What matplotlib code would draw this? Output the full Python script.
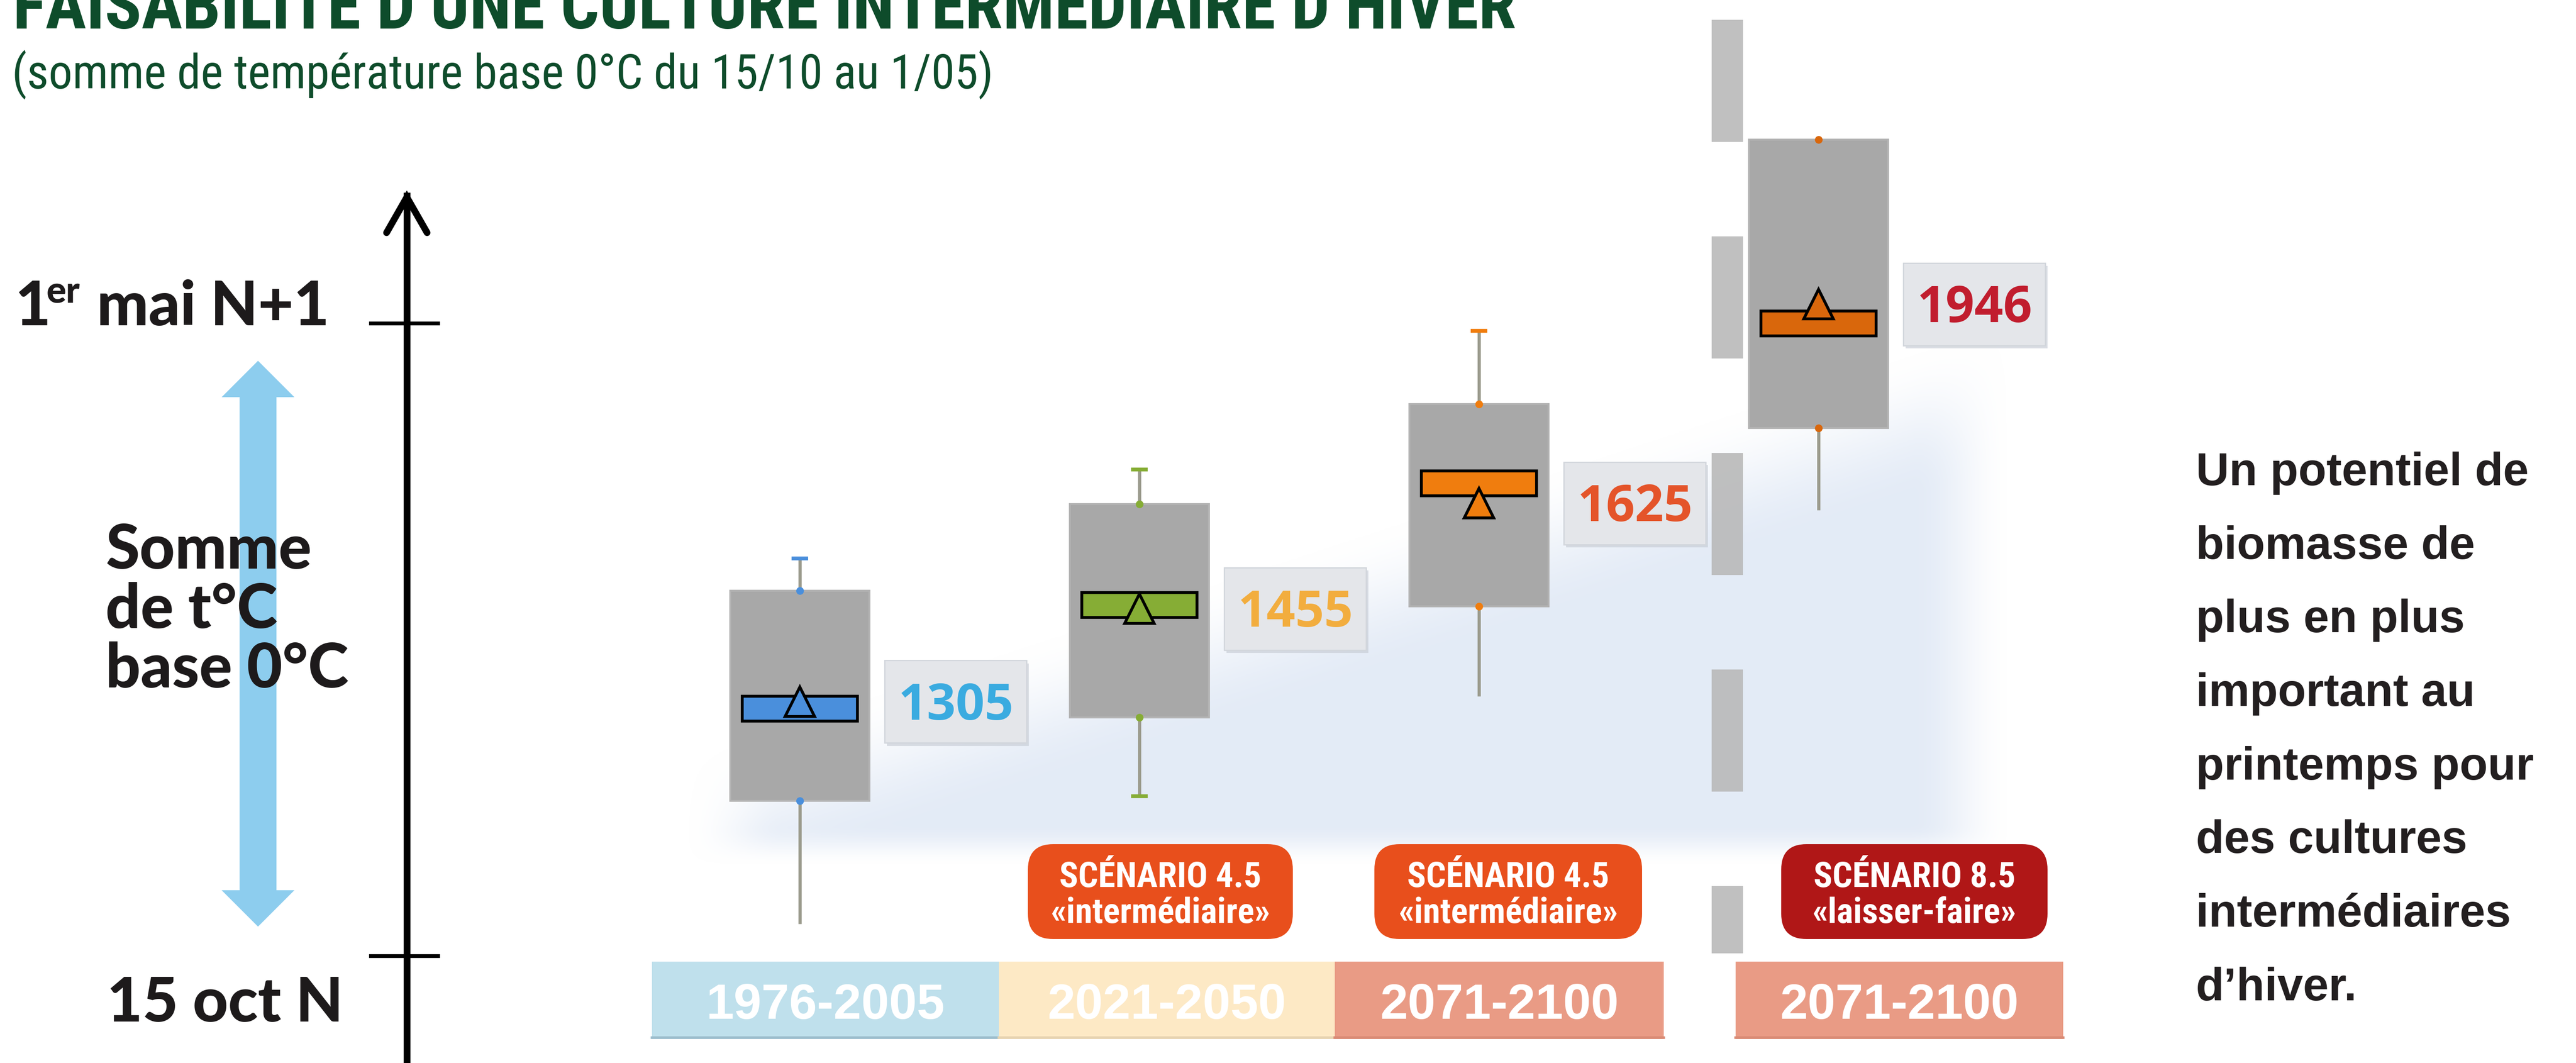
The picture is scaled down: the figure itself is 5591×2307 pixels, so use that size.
import numpy as np
import matplotlib
matplotlib.use('Agg')
import matplotlib.pyplot as plt
from matplotlib.patches import Rectangle, FancyBboxPatch, Polygon

# ---- data (sum of temperatures, base 0 degC) ----
periods = ['1976-2005', '2021-2050', '2071-2100', '2071-2100']
scen_top = [None, 'SCÉNARIO 4.5', 'SCÉNARIO 4.5', 'SCÉNARIO 8.5']
scen_bottom = [None, '«intermédiaire»', '«intermédiaire»', '«laisser-faire»']
means = [1305, 1455, 1625, 1946]
whisker_low = [947, 1153, 1314, 1614]
q1 = [1145, 1280, 1459, 1746]
medians = [1294, 1461, 1657, 1915]
q3 = [1484, 1624, 1785, 2211]
whisker_high = [1536, 1679, 1903, 2211]

# styles
median_colors = ['#4a8fdc', '#86ad35', '#f07d0e', '#d9670c']
label_colors = ['#3aabe0', '#f2ad3e', '#e4542a', '#c11d2e']
period_colors = ['#bfe0ec', '#fde9c5', '#e99b85', '#e99b85']
period_edge = ['#9bbccc', '#e6d3b0', '#d98a74', '#d98a74']
scen_colors = [None, '#e84f1c', '#e84f1c', '#b01717']
cap_top = [True, True, True, False]
cap_bottom = [False, True, False, False]

cond = ['Roboto Condensed', 'DejaVu Sans']
heavy = dict(family=['Lato', 'DejaVu Sans'], weight='black', color='#1d1a1b')
green = '#0e4c2b'

W, H = 5591, 2307
fig = plt.figure(figsize=(W / 100, H / 100), dpi=100)
r = fig.canvas.get_renderer()


def fit(t, width):
    t.set_fontsize(t.get_fontsize() * width / t.get_window_extent(r).width)
    return t.get_fontsize()


lay = fig.add_axes([0, 0, 1, 1])
lay.set_xlim(0, W)
lay.set_ylim(H, 0)
lay.axis('off')

ax = fig.add_axes([0, 0, 1, 1], zorder=3)
ax.patch.set_alpha(0)
ax.axis('off')
ax.set_xlim(-2.3555, 5.2307)
ax.set_ylim(722.6, 2436.3)

# soft blue glow behind the boxes
gx = np.linspace(1300, 4700, 341)
gy = np.linspace(400, 2000, 161)
GX, GY = np.meshgrid(gx, gy)
u, v = GX / 3.566, GY / 3.566


def ss(t):
    t = np.clip(t, 0, 1)
    return t * t * (3 - 2 * t)


alpha = ss((u - 415) / 60) * ss((1225 - u) / 60) * ss((528 - v) / 25) \
    * ss((v - (455 - (u - 430) * 0.33)) / 90)
img = np.zeros(GX.shape + (4,))
img[..., 0], img[..., 1], img[..., 2] = 0.89, 0.92, 0.965
img[..., 3] = alpha * 0.95
lay.imshow(img, extent=(1300, 4700, 2000, 400), aspect='auto', zorder=0,
           interpolation='bilinear')
lay.set_xlim(0, W)
lay.set_ylim(H, 0)

# title
title = lay.text(28, 62, 'FAISABILITÉ D’UNE CULTURE INTERMÉDIAIRE D’HIVER',
                 fontsize=100, weight='bold', color=green, va='baseline', family=cond)
fit(title, 3262)
sub = lay.text(26, 192, '(somme de température base 0°C du 15/10 au 1/05)',
               fontsize=60, color=green, va='baseline', family=cond)
fit(sub, 2132)

# left time axis
lay.plot([883, 883], [H + 10, 425], color='black', lw=10.5, zorder=2)
lay.plot([839, 883, 927], [505, 428, 505], color='black', lw=10.5,
         solid_capstyle='round', solid_joinstyle='miter', zorder=2)
lay.hlines([702, 2075], 801, 955, color='black', lw=6, zorder=2)
lay.add_patch(Polygon([(560, 783), (639, 862), (600, 862), (600, 1932), (639, 1932),
                       (560, 2011), (481, 1932), (520, 1932), (520, 862), (481, 862)],
                      closed=True, fc='#8dcdee', ec='none', zorder=1))
fs = 96
lay.text(32, 706, '1', fontsize=fs, va='baseline', **heavy)
lay.text(101, 658, 'er', fontsize=fs * 0.6, va='baseline', **heavy)
lay.text(210, 706, 'mai N+1', fontsize=fs, va='baseline', **heavy)
lay.text(232, 2217, '15 oct N', fontsize=fs, va='baseline', **heavy)
for txt, yb in zip(['Somme', 'de t°C', 'base 0°C'], [1234, 1363, 1492]):
    lay.text(229, yb, txt, fontsize=fs, va='baseline', zorder=3, **heavy)

# dashed separator before the 8.5 scenario
for s in np.arange(43, 2069, 470):
    lay.add_patch(Rectangle((3715, s), 68, min(265, 2069 - s), fc='#b9b9b9',
                            ec='none', alpha=0.9, zorder=2))

# period bars
period_spans = [(1415, 2168), (2168, 2897), (2897, 3611), (3767, 4478)]
for (x0, x1), lab, fc, ec in zip(period_spans, periods, period_colors, period_edge):
    lay.add_patch(Rectangle((x0, 2087), x1 - x0, 168, fc=fc, ec='none', zorder=2))
    lay.plot([x0, x1], [2252, 2252], color=ec, lw=4, zorder=2)
    lay.text((x0 + x1) / 2, 2211, lab, fontsize=78, weight='bold', color='white',
             ha='center', va='baseline', family='Liberation Sans', zorder=3)

# scenario tags
tag_spans = [None, (2231, 2806), (2983, 3564), (3866, 4444)]
probe = lay.text(0, -500, '«intermédiaire»', fontsize=56, weight='bold', family=cond)
tfs = fit(probe, 476)
probe.remove()
for span, t1, t2, fc in zip(tag_spans, scen_top, scen_bottom, scen_colors):
    if span is None:
        continue
    x0, x1 = span
    lay.add_patch(FancyBboxPatch((x0, 1832), x1 - x0, 206,
                                 boxstyle='round,pad=0,rounding_size=55',
                                 fc=fc, ec='none', zorder=2))
    lay.text((x0 + x1) / 2, 1925, t1, fontsize=tfs, weight='bold', color='white',
             ha='center', va='baseline', zorder=3, family=cond)
    lay.text((x0 + x1) / 2, 2003, t2, fontsize=tfs, weight='bold', color='white',
             ha='center', va='baseline', zorder=3, family=cond)

# right-hand comment
comment = ['Un potentiel de', 'biomasse de', 'plus en plus', 'important au',
           'printemps pour', 'des cultures', 'intermédiaires', 'd’hiver.']
for k, line in enumerate(comment):
    lay.text(4766, 1053 + k * 159.7, line, fontsize=72, weight='bold',
             color='#231f20', va='baseline', family='Liberation Sans')

# box plots
x = np.arange(len(means))
bw, mw, mh, cw = 0.41, 0.34, 40, 0.05
for i in range(len(means)):
    ax.vlines(x[i], whisker_low[i], q1[i], color='#9b9b8d', lw=5, zorder=1)
    ax.vlines(x[i], q3[i], whisker_high[i], color='#9b9b8d', lw=5, zorder=1)
    if cap_top[i]:
        ax.hlines(whisker_high[i], x[i] - cw / 2, x[i] + cw / 2, color=median_colors[i], lw=6)
    if cap_bottom[i]:
        ax.hlines(whisker_low[i], x[i] - cw / 2, x[i] + cw / 2, color=median_colors[i], lw=6)
    ax.add_patch(Rectangle((x[i] - bw / 2, q1[i]), bw, q3[i] - q1[i], fc='#a8a8a8',
                           ec='#b3b3b3', lw=3, zorder=2))
    ax.plot([x[i], x[i]], [q1[i], q3[i]], 'o', ms=11, color=median_colors[i], zorder=3)
    ax.add_patch(Rectangle((x[i] - mw / 2, medians[i] - mh / 2), mw, mh,
                           fc=median_colors[i], ec='black', lw=4.5, zorder=4))
    ax.plot(x[i], means[i], '^', ms=46, mfc=median_colors[i], mec='black', mew=4.5, zorder=5)

    # value label
    lx = x[i] + 0.25
    ax.add_patch(Rectangle((lx + 0.006, means[i] - 66.5 - 5), 0.418, 133, fc='#c4c9d2',
                           ec='none', alpha=0.6, zorder=2))
    ax.add_patch(Rectangle((lx, means[i] - 66.5), 0.418, 133, fc='#e4e6ea',
                           ec='#d2d6dc', lw=2, zorder=3))
    ax.annotate(str(means[i]), (lx + 0.209, means[i]), xytext=(0, -28),
                textcoords='offset points', ha='center', va='baseline', fontsize=79,
                weight='bold', family=['Open Sans', 'DejaVu Sans'],
                color=label_colors[i], zorder=6)

fig.savefig('out.png', dpi=100)
